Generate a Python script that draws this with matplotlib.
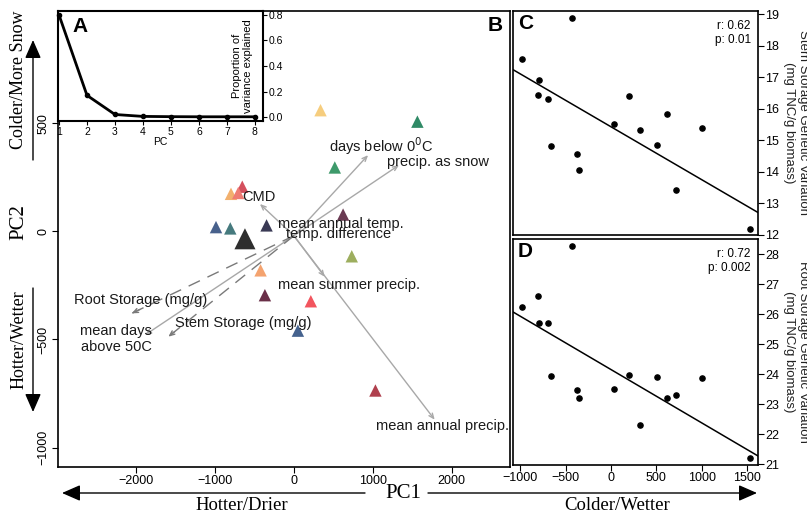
import matplotlib
matplotlib.use('Agg')
import matplotlib.pyplot as plt
from matplotlib.patches import FancyArrowPatch
import numpy as np

plt.rcParams['font.family'] = ['Liberation Sans', 'DejaVu Sans']

# panel A: scree plot
pcs = [1, 2, 3, 4, 5, 6, 7, 8]
var_explained = [0.80, 0.17, 0.02, 0.005, 0.003, 0.002, 0.002, 0.002]

# panel B: population scores on PC1/PC2
pop_pc1 = [338, 1566, 519, -654, -797, -705, 624, -987, -806, -346, 734, -422, -367, 215, 51, 1034]
pop_pc2 = [561, 508, 296, 207, 174, 178, 78, 20, 14, 28, -115, -180, -295, -323, -459, -736]
pop_colors = ['#F6CD7E', '#2F8A66', '#3E9A6B', '#D4505E', '#F2B06E', '#EE7B73', '#6A3A52', '#48618C',
              '#467A7E', '#3A3A55', '#9DAE5E', '#F4A36F', '#6A2F48', '#F2555E', '#45628E', '#B0404E']
mean_pc1, mean_pc2 = -620, -34

# climate loadings (arrow tips)
env_names = ['days below 0$^{0}$C', 'precip. as snow', 'CMD', 'mean summer precip.',
             'mean annual precip.', 'mean days\nabove 50C']
env_pc1 = [941, 1333, -430, 392, 1785, -1886]
env_pc2 = [353, 307, 127, -210, -871, -479]
env_lab_x = [1110, 1827, -439, 696, 1882, -2253]
env_lab_y = [393, 323, 158, -246, -899, -498]

extra_names = ['mean annual temp.', 'temp. difference']
extra_x = [591, 561]
extra_y = [35, -14]

# storage traits (dashed arrows)
trait_names = ['Root Storage (mg/g)', 'Stem Storage (mg/g)']
trait_pc1 = [-2055, -1591]
trait_pc2 = [-379, -487]
trait_lab_x = [-1941, -642]
trait_lab_y = [-315, -423]

# panels C/D
pc1_scores = [-982, -802, -792, -691, -658, -434, -379, -356, 38, 198, 325, 505, 612, 714, 1008, 1530]
stem_storage = [17.59, 16.43, 16.91, 16.30, 14.83, 18.87, 14.56, 14.07, 15.52, 16.40, 15.34, 14.85, 15.85, 13.43, 15.40, 12.20]
root_storage = [26.22, 26.59, 25.69, 25.69, 23.95, 28.28, 23.47, 23.19, 23.50, 23.97, 22.31, 23.89, 23.19, 23.29, 23.86, 21.20]
stem_fit = (-0.001677, 15.43)
root_fit = (-0.001777, 24.15)

W, H = 807, 516
fig = plt.figure(figsize=(W / 100, H / 100), dpi=100)


def box(l, t, r, b):
    return [l / W, 1 - b / H, (r - l) / W, (b - t) / H]


def fp(x, y):
    return (x, H - y)


ax = fig.add_axes(box(58, 11, 510, 467))
axA = fig.add_axes(box(58, 11, 263, 121))
axC = fig.add_axes(box(513, 11, 758, 235))
axD = fig.add_axes(box(513, 239, 758, 465))

# ---- B
origin = (0, -20)
for x, y, c in zip(pop_pc1, pop_pc2, pop_colors):
    ax.scatter(x, y, marker='^', s=80, color=c, edgecolors='none', zorder=3)
ax.scatter(mean_pc1, mean_pc2, marker='^', s=230, color='#2E2E2E', edgecolors='none', zorder=3)

for tx, ty in zip(env_pc1, env_pc2):
    ax.annotate('', xy=(tx, ty), xytext=origin,
                arrowprops=dict(arrowstyle='->,head_length=0.35,head_width=0.15', color='#A8A8A8', lw=1,
                                shrinkA=0, shrinkB=0), zorder=2)
for name, lx, ly in zip(env_names, env_lab_x, env_lab_y):
    ax.text(lx, ly, name, ha='center', va='center', fontsize=10.5, color='#1a1a1a', zorder=4)
for name, lx, ly in zip(extra_names, extra_x, extra_y):
    ax.text(lx, ly, name, ha='center', va='center', fontsize=10.5, color='#1a1a1a', zorder=4)

for tx, ty in zip(trait_pc1, trait_pc2):
    ax.plot([origin[0], tx], [origin[1], ty], color='#7A7A7A', lw=1, dashes=(9, 6), zorder=2)
    ax.annotate('', xy=(tx, ty), xytext=(tx + 0.05 * (origin[0] - tx), ty + 0.05 * (origin[1] - ty)),
                arrowprops=dict(arrowstyle='->,head_length=0.35,head_width=0.15', color='#7A7A7A', lw=1,
                                shrinkA=0, shrinkB=0), zorder=2)
for name, lx, ly in zip(trait_names, trait_lab_x, trait_lab_y):
    ax.text(lx, ly, name, ha='center', va='center', fontsize=10.5, color='#1a1a1a', zorder=4)

ax.set_xlim(-2990, 2740)
ax.set_ylim(-1090, 1020)
ax.set_xticks([-2000, -1000, 0, 1000, 2000])
ax.set_yticks([-1000, -500, 0, 500])
for lab in ax.get_yticklabels():
    lab.set_rotation(90)
    lab.set_va('center')
ax.tick_params(direction='out', length=4, labelsize=9, pad=2)
ax.text(0.985, 0.99, 'B', transform=ax.transAxes, ha='right', va='top', fontsize=15, fontweight='bold')

# ---- A
axA.plot(pcs, var_explained, color='black', lw=2, marker='o', ms=3, zorder=3, clip_on=False)
axA.set_xlim(0.964, 8.29)
axA.set_ylim(-0.031, 0.831)
axA.set_xticks(pcs)
axA.set_yticks([0.0, 0.2, 0.4, 0.6, 0.8])
axA.set_yticklabels(['0.0', '0.2', '0.4', '0.6', '0.8'])
axA.yaxis.tick_right()
axA.tick_params(direction='out', length=3, labelsize=7.5, pad=1)
axA.set_xlabel('PC', fontsize=7.5, labelpad=0)
axA.text(0.9, 0.5, 'Proportion of\nvariance explained', transform=axA.transAxes, rotation=90,
         ha='center', va='center', fontsize=8)
axA.text(0.07, 0.95, 'A', transform=axA.transAxes, ha='left', va='top', fontsize=15, fontweight='bold')
for s in axA.spines.values():
    s.set_linewidth(1.5)

# ---- C / D
xs = np.array([-1080, 1620])
axC.scatter(pc1_scores, stem_storage, s=14, color='black', zorder=3)
axC.plot(xs, stem_fit[0] * xs + stem_fit[1], color='black', lw=1.1)
axC.set_xlim(-1080, 1620)
axC.set_ylim(12.0, 19.1)
axC.set_xticks([])
axC.set_yticks(range(12, 20))
axC.yaxis.tick_right()
axC.tick_params(direction='out', length=4, labelsize=9, pad=1)
axC.text(0.97, 0.96, 'r: 0.62\np: 0.01', transform=axC.transAxes, ha='right', va='top', fontsize=8.5)
axC.text(0.02, 0.985, 'C', transform=axC.transAxes, ha='left', va='top', fontsize=15, fontweight='bold')

axD.scatter(pc1_scores, root_storage, s=14, color='black', zorder=3)
axD.plot(xs, root_fit[0] * xs + root_fit[1], color='black', lw=1.1)
axD.set_xlim(-1080, 1620)
axD.set_ylim(20.97, 28.5)
axD.set_xticks([-1000, -500, 0, 500, 1000, 1500])
axD.set_yticks(range(21, 29))
axD.yaxis.tick_right()
axD.tick_params(direction='out', length=4, labelsize=9, pad=1)
axD.text(0.97, 0.96, 'r: 0.72\np: 0.002', transform=axD.transAxes, ha='right', va='top', fontsize=8.5)
axD.text(0.02, 0.985, 'D', transform=axD.transAxes, ha='left', va='top', fontsize=15, fontweight='bold')

fig.text(796 / W, 1 - 123 / H, 'Stem Storage Genetic Variation\n(mg TNC/g biomass)', rotation=270,
         ha='center', va='center', fontsize=9.5, color='#222222')
fig.text(796 / W, 1 - 352 / H, 'Root Storage Genetic Variation\n(mg TNC/g biomass)', rotation=270,
         ha='center', va='center', fontsize=9.5, color='#222222')

for a in (ax, axC, axD):
    for s in a.spines.values():
        s.set_linewidth(1.2)

# ---- outer direction labels
serif = ['Liberation Serif', 'DejaVu Serif']
arrow_kw = dict(arrowstyle='-|>,head_length=0.8,head_width=0.35', color='black', lw=1,
                shrinkA=0, shrinkB=0, mutation_scale=14, transform=None)
fig.text(403 / W, 1 - 493 / H, 'PC1', ha='center', va='center', fontsize=15, family=serif)
fig.text(242 / W, 1 - 505 / H, 'Hotter/Drier', ha='center', va='center', fontsize=13.5, family=serif)
fig.text(617 / W, 1 - 505 / H, 'Colder/Wetter', ha='center', va='center', fontsize=13.5, family=serif)
fig.add_artist(FancyArrowPatch(fp(365, 493), fp(62, 493), **arrow_kw))
fig.add_artist(FancyArrowPatch(fp(428, 493), fp(757, 493), **arrow_kw))

fig.text(19 / W, 1 - 222 / H, 'PC2', ha='center', va='center', rotation=90, fontsize=15, family=serif)
fig.text(19 / W, 1 - 80 / H, 'Colder/More Snow', ha='center', va='center', rotation=90, fontsize=13,
         family=serif)
fig.text(19 / W, 1 - 340 / H, 'Hotter/Wetter', ha='center', va='center', rotation=90, fontsize=13,
         family=serif)
fig.add_artist(FancyArrowPatch(fp(33, 160), fp(33, 40), **arrow_kw))
fig.add_artist(FancyArrowPatch(fp(33, 288), fp(33, 412), **arrow_kw))

fig.savefig('out.png', dpi=100)
